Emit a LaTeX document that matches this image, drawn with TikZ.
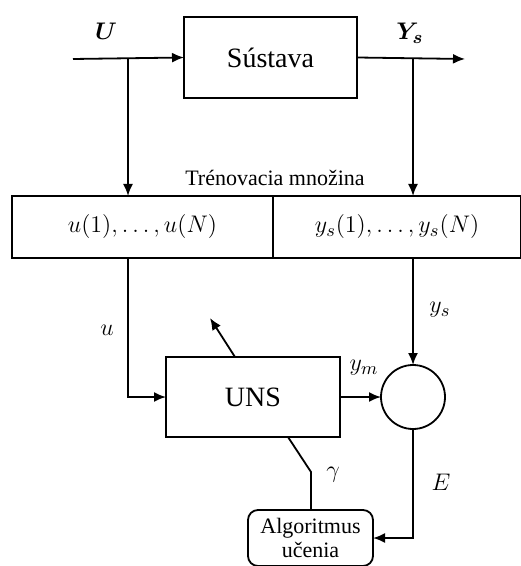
\documentclass[tikz,border=0pt]{standalone}
\usepackage{amsmath,bm}
\usepackage{fontspec}
\setmainfont{Liberation Serif}
\usetikzlibrary{positioning,arrows.meta}

\tikzset{
  blok/.style={draw,line width=0.9pt,inner sep=0pt,outer sep=0pt},
  sip/.style={-{Latex[length=6pt,width=5pt]},line width=0.9pt},
  ciara/.style={line width=0.9pt},
}

\begin{document}
\begin{tikzpicture}[x=0.5pt,y=-0.5pt]
\useasboundingbox (0,0) rectangle (520,566);
% sustava
\node[blok,minimum width=86.5pt,minimum height=40.5pt,font=\fontsize{14}{16}\selectfont] (sustava) at (270.5,57.5) {Sústava};
\coordinate (vstup) at (73,59);
\coordinate (vystup) at (465,59);
\coordinate (bu) at (128,59);
\coordinate (by) at (413,59);
\draw[sip] (vstup) -- (sustava.west);
\draw[sip] (sustava.east) -- (vystup);
\node[font=\fontsize{12.5}{14}\selectfont] (lU) at (106,31) {$\bm{U}$};
\node[font=\fontsize{12.5}{14}\selectfont] (lY) at (410,33) {$\bm{Y_s}$};
% trenovacia mnozina
\node[blok,minimum width=130.5pt,minimum height=31pt,font=\fontsize{12.5}{14}\selectfont] (mnozu) at (142.5,227) {$u(1),\ldots,u(N)$};
\node[blok,minimum width=124pt,minimum height=31pt,anchor=west,font=\fontsize{12.5}{14}\selectfont] (mnozy) at (mnozu.east) {$y_s(1),\ldots,y_s(N)$};
\node[font=\fontsize{11}{13}\selectfont] (nazov) at (275,178) {Trénovacia množina};
\draw[sip] (bu) -- (bu |- mnozu.north);
\draw[sip] (by) -- (by |- mnozy.north);
% UNS a sucet
\node[blok,minimum width=87pt,minimum height=40pt,font=\fontsize{14}{16}\selectfont] (uns) at (253,397) {UNS};
\node[blok,circle,minimum size=32pt] (sucet) at (413,397) {};
\draw[sip] (bu |- mnozu.south) |- (uns.west);
\draw[sip] (by |- mnozy.south) -- (sucet.north);
\draw[sip] (uns.east) -- (sucet.west);
\draw[sip] ([xshift=-9pt]uns.north) -- ++(-12.5pt,19.5pt);
\node[font=\fontsize{12.5}{14}\selectfont] (lu) at (107,330) {$u$};
\node[font=\fontsize{12.5}{14}\selectfont] (lys) at (440,310) {$y_s$};
\node[font=\fontsize{12.5}{14}\selectfont] (lym) at (364,368) {$y_m$};
% algoritmus ucenia
\node[blok,rounded corners=5pt,minimum width=62.5pt,minimum height=28pt,align=center,font=\fontsize{11}{12}\selectfont] (alg) at (310.5,538) {Algoritmus\\učenia};
\coordinate (g0) at (288,437);
\coordinate (zlom) at (311,472);
\draw[ciara] (g0) -- (zlom) -- (zlom |- alg.north);
\draw[sip] (sucet.south) |- (alg.east);
\node[font=\fontsize{12.5}{14}\selectfont] (lg) at (333,475) {$\gamma$};
\node[font=\fontsize{12.5}{14}\selectfont] (lE) at (441,482) {$E$};
\end{tikzpicture}
\end{document}
